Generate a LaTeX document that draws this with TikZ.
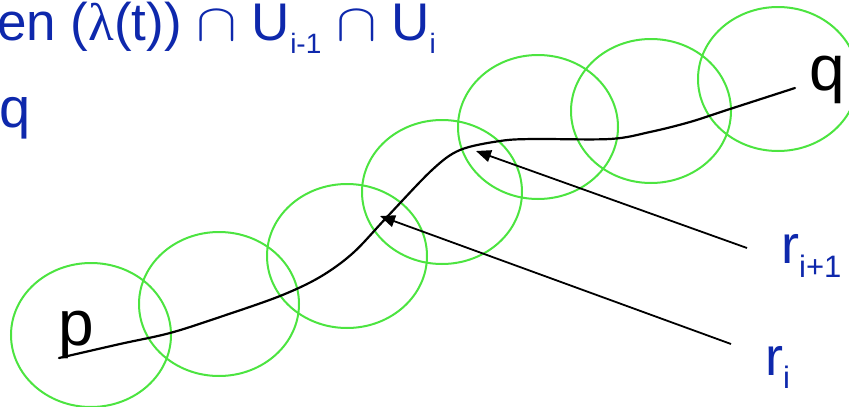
\documentclass[tikz,border=0pt]{standalone}
\usepackage{fix-cm}
\usepackage{fontspec}
\setmainfont{Liberation Sans}
\newfontfamily\grkfont{Liberation Serif}
\usepackage{xcolor}
\usepackage{tikz}
\usetikzlibrary{arrows.meta,shapes.geometric}

\definecolor{setgreen}{RGB}{76,228,64}
\definecolor{lblblue}{RGB}{14,40,172}
\newcommand{\sublow}[3]{\raisebox{-#1}{\fontsize{#2}{#2}\selectfont #3}}
\newcommand{\wcap}{\scalebox{1.15}[1]{$\cap$}}

\begin{document}
\begin{tikzpicture}[
  x=1pt, y=-1pt,
  uset/.style={draw=setgreen, line width=2pt, ellipse, minimum width=160pt, minimum height=144pt, inner sep=0pt},
  lbl/.style={inner sep=0pt, anchor=base west, text=lblblue},
  pt/.style={inner sep=0pt, anchor=base west, font=\fontsize{64}{64}\selectfont},
  path/.style={line width=2.2pt, line cap=round},
  fl/.style={line width=1.8pt, -{Triangle[length=15pt, width=12pt]}},
]
\useasboundingbox (0,0) rectangle (849,407);

% open sets along the path
\foreach \cx/\cy [count=\k] in {91/335,219/304,347/256,442/192,538/127,651/111,778/79}
  \node[uset] (u\k) at (\cx,\cy) {};

\node[lbl, font=\fontsize{53}{53}\selectfont] (cond) at (-3,40)
  {en ({\grkfont λ}(t)) \wcap{} U\sublow{13pt}{28}{i-1} \wcap{} U\sublow{13pt}{28}{i}};
\node[lbl, font=\fontsize{56}{56}\selectfont] (endq) at (-1,127) {q};

\node[pt] (p) at (58,345) {p};
\node[pt] (q) at (809,90) {q};

\coordinate (pend) at (59,358);
\coordinate (qend) at (795,88);
\draw[path] plot[smooth, tension=0.55] coordinates {(pend) (120,344) (170,333) (220,317) (280,296)
  (320,277) (353,253) (387,217) (432,170) (460,150) (500,141) (533,139) (610,139)
  (650,132) (690,122) (730,109) (qend)};

\node[lbl, font=\fontsize{54}{54}\selectfont] (rnext) at (781,263) {r\sublow{14pt}{31}{i+1}};
\node[lbl, font=\fontsize{54}{54}\selectfont] (rcur) at (765,375) {r\sublow{13pt}{31}{i}};

\coordinate (tnext) at (747,248);
\coordinate (tcur) at (731,344);
\coordinate (hnext) at (476,151);
\coordinate (hcur) at (380,216);
\foreach \a/\b in {tnext/hnext,tcur/hcur} \draw[fl] (\a) -- (\b);
\end{tikzpicture}
\end{document}
